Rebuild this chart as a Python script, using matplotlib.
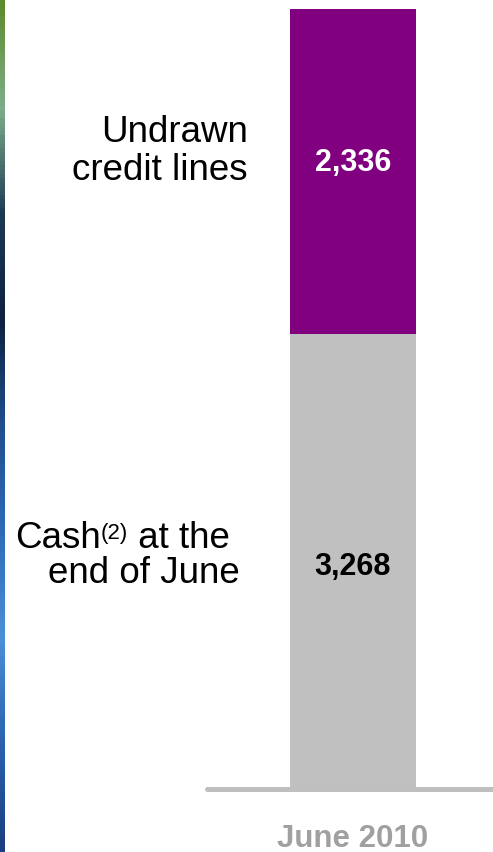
import numpy as np
import matplotlib.pyplot as plt
from matplotlib.colors import LinearSegmentedColormap
import matplotlib.transforms as mtransforms

# ==========================
# DATA
# ==========================
period = ["June 2010"]
cash = [3268]
undrawn = [2336]
undrawn_label = "Undrawn\ncredit lines"
cash_parts = ["Cash", "(2)", " at the"]   # second part is a superscript note
cash_line2 = "end of June"

plt.rcParams.update({
    "font.family": "Liberation Sans",
})

W, H = 493, 853
fig = plt.figure(figsize=(W / 100, H / 100), dpi=100)

# decorative strip on the left edge (slide background peeking in)
strip = fig.add_axes([0, 0, 5 / W, 1])
cmap = LinearSegmentedColormap.from_list(
    "bg", ["#5d8a2a", "#7fae8a", "#1d3a55", "#0d2140", "#1f4f8f",
           "#2d6bb8", "#4a90d9", "#2a62b0", "#1a3f80"])
strip.imshow(np.linspace(0, 1, 200).reshape(-1, 1), aspect="auto", cmap=cmap)
strip.axis("off")

# main chart
ax = fig.add_axes([207 / W, 63 / H, 286 / W, 780 / H])
x = np.arange(len(period))
ax.bar(x, cash, width=0.44, color="#C0C0C0")
ax.bar(x, undrawn, width=0.44, bottom=cash, color="#800080")

ax.set_xlim(-0.5105, 0.4895)
ax.set_ylim(0, cash[0] + undrawn[0])
for s in ax.spines.values():
    s.set_visible(False)
ax.set_xticks([])
ax.set_yticks([])

# base line
ax.plot([0, 1], [0, 0], transform=ax.transAxes, color="#BFBFBF", lw=3.6,
        solid_capstyle="round", clip_on=False)

# segment values
ax.text(x[0], cash[0] * 0.49, f"{cash[0]:,}", ha="center", va="center",
        fontsize=22, fontweight="bold", color="black")
ax.text(x[0], cash[0] + undrawn[0] * 0.53, f"{undrawn[0]:,}", ha="center",
        va="center", fontsize=22, fontweight="bold", color="white")

# category label
ax.text(x[0], -410, period[0], ha="center", va="baseline", fontsize=22.5,
        fontweight="bold", color="#A0A0A0", clip_on=False)

# segment names on the left
trans = mtransforms.blended_transform_factory(ax.transAxes, ax.transData)
ax.text(0.143, cash[0] + undrawn[0] * 0.565, undrawn_label, transform=trans,
        ha="right", va="center", multialignment="right", fontsize=26.5,
        linespacing=1.08, clip_on=False)

# cash label: second line right aligned, first line built from pieces
ax.text(0.115, cash[0] * 0.455, cash_line2, transform=trans,
        ha="right", va="baseline", fontsize=26.5, clip_on=False)

fig.canvas.draw()
r = fig.canvas.get_renderer()
px = mtransforms.IdentityTransform()
right_px, base_px = trans.transform((0.08, cash[0] * 0.532))
sizes = [26.5, 16, 26.5]
rises = [0, 9, 0]
widths = []
for part, fs in zip(cash_parts, sizes):
    t = fig.text(0, 0, part, fontsize=fs)
    widths.append(t.get_window_extent(r).width)
    t.remove()
xpos = right_px - sum(widths)
for part, fs, rise, w in zip(cash_parts, sizes, rises, widths):
    fig.text(xpos, base_px + rise, part, fontsize=fs, transform=px,
             ha="left", va="baseline")
    xpos += w

fig.savefig("out.png", dpi=100)
